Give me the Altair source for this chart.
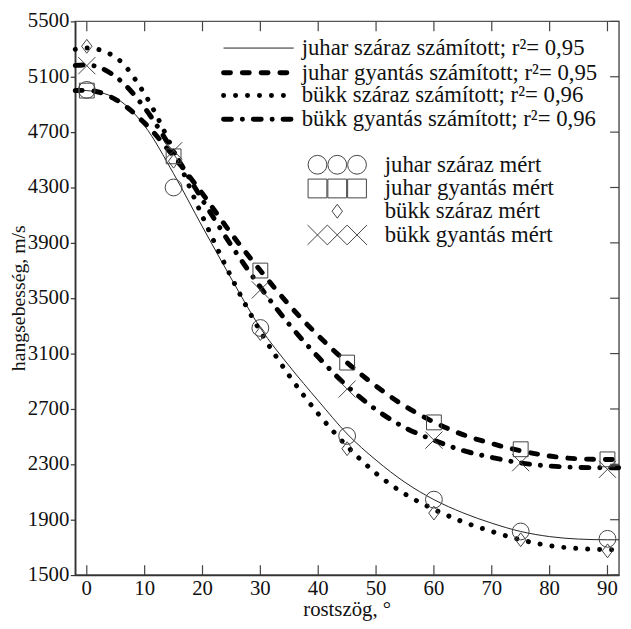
import altair as alt
import pandas as pd

# ---------------- data ----------------
angles = [-2, 0, 5, 10, 15, 20, 25, 30, 35, 40, 45, 50, 55, 60, 65, 70, 75, 80, 85, 90, 92]
juhar_szaraz_calc = [5003, 5000, 4945, 4745, 4400, 4015, 3640, 3285, 3010, 2760, 2520, 2330, 2170, 2045, 1950, 1875, 1815, 1778, 1760, 1755, 1755]
juhar_gyantas_calc = [5000, 5002, 4935, 4765, 4525, 4255, 3965, 3700, 3450, 3230, 3035, 2865, 2720, 2605, 2515, 2450, 2398, 2360, 2340, 2335, 2335]
bukk_szaraz_calc = [5298, 5308, 5240, 4975, 4565, 4090, 3650, 3260, 2940, 2665, 2430, 2235, 2085, 1975, 1885, 1815, 1755, 1712, 1692, 1683, 1682]
bukk_gyantas_calc = [5182, 5185, 5100, 4875, 4555, 4210, 3880, 3580, 3310, 3075, 2865, 2695, 2565, 2475, 2400, 2350, 2310, 2288, 2278, 2275, 2275]

meas_angles = [0, 15, 30, 45, 60, 75, 90]
juhar_szaraz_meas = [5005, 4300, 3285, 2505, 2045, 1815, 1762]
juhar_gyantas_meas = [5000, 4525, 3700, 3035, 2603, 2409, 2336]
bukk_szaraz_meas = [5320, 4490, 3245, 2413, 1948, 1755, 1675]
bukk_gyantas_meas = [5180, 4565, 3560, 2844, 2475, 2312, 2264]

x_ticks = [0, 10, 20, 30, 40, 50, 60, 70, 80, 90]
y_ticks = [1500, 1900, 2300, 2700, 3100, 3500, 3900, 4300, 4700, 5100, 5500]

line_labels = [
    "juhar száraz számított; r²= 0,95",
    "juhar gyantás számított; r²= 0,95",
    "bükk száraz számított; r²= 0,96",
    "bükk gyantás számított; r²= 0,96",
]
marker_labels = [
    "juhar száraz mért",
    "juhar gyantás mért",
    "bükk száraz mért",
    "bükk gyantás mért",
]
x_title = "rostszög, °"
y_title = "hangsebesség, m/s"

# ---------------- styling ----------------
FONT = "Liberation Serif"
TXT = "#111"
W, H = 550, 560
xs = alt.Scale(domain=[-2, 92], nice=False, zero=False)
ys = alt.Scale(domain=[1500, 5500], nice=False, zero=False)

X_AXIS = alt.Axis(values=x_ticks, ticks=False, labels=False, grid=False,
                  domainColor="#333", domainWidth=1.5, title=None)
Y_AXIS = alt.Axis(values=y_ticks, tickSize=5, tickColor="#333", tickWidth=1.2,
                  labels=False, grid=False, domainColor="#333", domainWidth=1.5,
                  title=None)

STYLES = [
    dict(strokeWidth=1, color="#222"),
    dict(strokeWidth=5, color="#000", strokeDash=[7, 12], strokeCap="round"),
    dict(strokeWidth=5, color="#000", strokeDash=[0.1, 12], strokeCap="round"),
    dict(strokeWidth=5, color="#000", strokeDash=[8, 11, 0.1, 11], strokeCap="round"),
]
DIAMOND = "M0,-1L0.75,0L0,1L-0.75,0Z"
XSHAPE = "M-1,-1L1,1M-1,1L1,-1"
MARKERS = [
    dict(shape="circle", size=289),
    dict(shape="square", size=225),
    dict(shape=DIAMOND, size=196),
    dict(shape=XSHAPE, size=300),
]
LEG_MARKERS = [
    dict(shape="circle", size=361),
    dict(shape="square", size=361),
    dict(shape=DIAMOND, size=196),
    dict(shape=XSHAPE, size=400),
]
MCOL = "#444"

one = pd.DataFrame({"a": [0]})


def enc():
    return dict(x=alt.X("x:Q", scale=xs, axis=X_AXIS),
                y=alt.Y("y:Q", scale=ys, axis=Y_AXIS))


layers = []
for vals, st in zip([juhar_szaraz_calc, juhar_gyantas_calc, bukk_szaraz_calc, bukk_gyantas_calc], STYLES):
    layers.append(
        alt.Chart(pd.DataFrame({"x": angles, "y": vals})).mark_line(interpolate="monotone", **st)
        .encode(**enc())
    )

for vals, mk in zip([juhar_szaraz_meas, juhar_gyantas_meas, bukk_szaraz_meas, bukk_gyantas_meas], MARKERS):
    layers.append(
        alt.Chart(pd.DataFrame({"x": meas_angles, "y": vals})).mark_point(
            filled=False, stroke=MCOL, strokeWidth=1, opacity=1, **mk)
        .encode(**enc())
    )

# inward ticks (bottom, top, right)
xt = pd.DataFrame({"x": x_ticks, "lab": [str(v) for v in x_ticks]})
yt = pd.DataFrame({"y": y_ticks, "lab": [str(v) for v in y_ticks]})
layers.append(alt.Chart(xt).mark_rule(color="#444", strokeWidth=1.2).encode(
    x=alt.X("x:Q", scale=xs, axis=X_AXIS), y=alt.value(H), y2=alt.value(H - 10)))
layers.append(alt.Chart(xt).mark_rule(color="#444", strokeWidth=1.2).encode(
    x=alt.X("x:Q", scale=xs, axis=X_AXIS), y=alt.value(0), y2=alt.value(10)))
layers.append(alt.Chart(yt).mark_rule(color="#444", strokeWidth=1.2).encode(
    y=alt.Y("y:Q", scale=ys, axis=Y_AXIS), x=alt.value(W), x2=alt.value(W - 9)))

# tick labels and axis titles (serif text)
layers.append(alt.Chart(xt).mark_text(
    align="center", baseline="top", font=FONT, fontSize=21, color=TXT).encode(
    x=alt.X("x:Q", scale=xs, axis=X_AXIS), y=alt.value(H + 3), text="lab:N"))
layers.append(alt.Chart(yt).mark_text(
    align="right", baseline="middle", font=FONT, fontSize=21, color=TXT).encode(
    y=alt.Y("y:Q", scale=ys, axis=Y_AXIS), x=alt.value(-6), text="lab:N"))
layers.append(alt.Chart(one).mark_text(
    align="center", baseline="alphabetic", font=FONT, fontSize=21, color=TXT).encode(
    x=alt.value(W / 2), y=alt.value(H + 41), text=alt.value(x_title)))
layers.append(alt.Chart(one).mark_text(
    align="center", baseline="middle", angle=270, font=FONT, fontSize=20, color=TXT).encode(
    x=alt.value(-57), y=alt.value(H / 2), text=alt.value(y_title)))

# legend: computed lines
LFS = 23
line_rows = [27, 52, 75, 99]
for lab, st, ry in zip(line_labels, STYLES, line_rows):
    layers.append(alt.Chart(one).mark_rule(**st).encode(
        x=alt.value(150), x2=alt.value(221), y=alt.value(ry)))
    layers.append(alt.Chart(one).mark_text(
        align="left", baseline="alphabetic", font=FONT, fontSize=LFS, color=TXT).encode(
        x=alt.value(229), y=alt.value(ry + 7), text=alt.value(lab)))

# legend: measured markers
mrows = [145, 169, 192, 216]
mx_three = [245, 265, 285]
for i, (lab, mk, ry) in enumerate(zip(marker_labels, LEG_MARKERS, mrows)):
    xs_list = [265] if i == 2 else mx_three
    for px in xs_list:
        layers.append(alt.Chart(one).mark_point(
            filled=False, stroke=MCOL, strokeWidth=1, opacity=1, **mk).encode(
            x=alt.value(px), y=alt.value(ry)))
    layers.append(alt.Chart(one).mark_text(
        align="left", baseline="alphabetic", font=FONT, fontSize=LFS, color=TXT).encode(
        x=alt.value(313), y=alt.value(ry + 7), text=alt.value(lab)))

chart = alt.layer(*layers).properties(
    width=W, height=H,
    autosize=alt.AutoSizeParams(type="none"),
    padding={"left": 68, "top": 10, "right": 4, "bottom": 51},
    background="white",
).configure_view(stroke="#555", strokeWidth=1.5)

chart.save("out.html", embed_options={"renderer": "svg", "actions": False})
